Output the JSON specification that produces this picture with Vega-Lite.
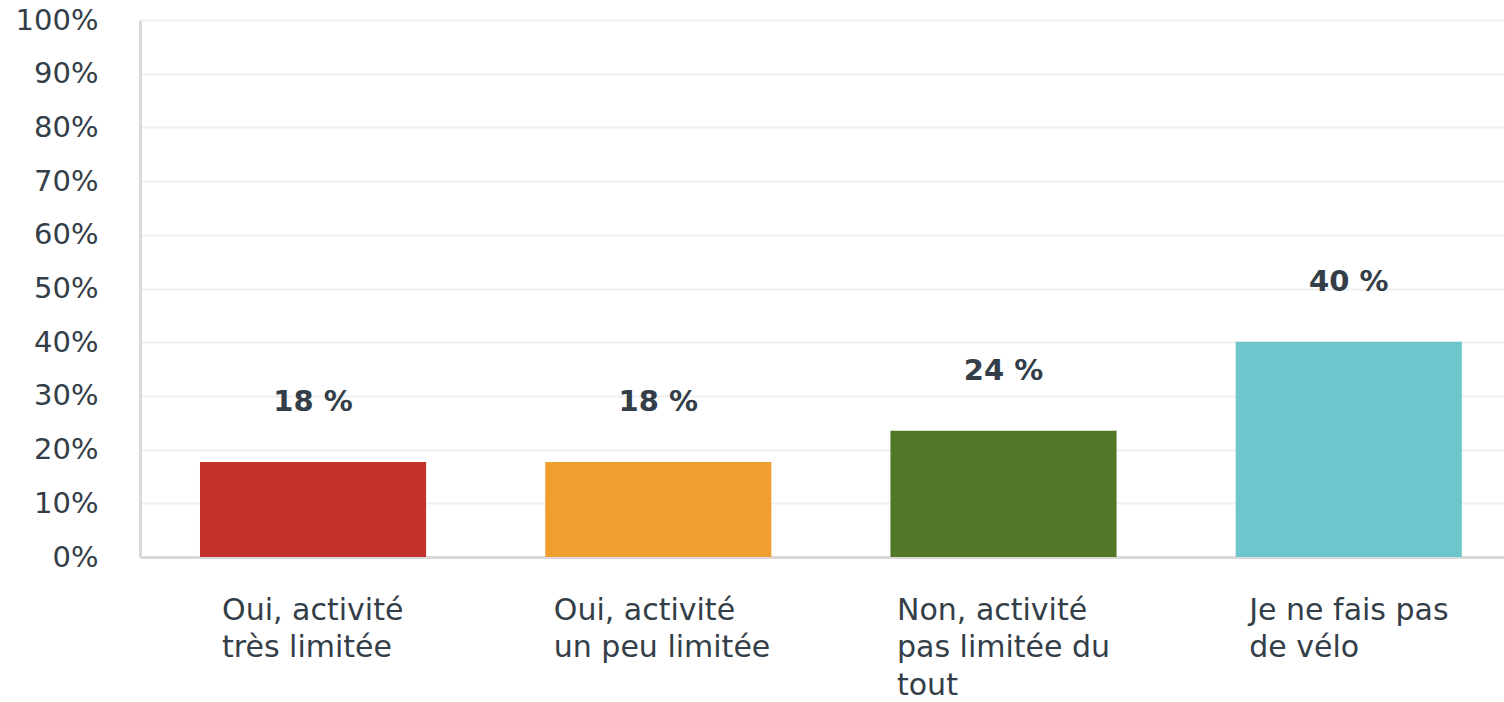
{
  "$schema": "https://vega.github.io/schema/vega-lite/v6.json",
  "width": 1364,
  "height": 537,
  "autosize": {"type": "none"},
  "padding": {"left": 140, "top": 20, "right": 0, "bottom": 145},
  "background": "white",
  "config": {"view": {"stroke": null}, "font": "DejaVu Sans"},
  "data": {
    "values": [
      {"reponse": "Oui, activité très limitée", "pct": 17.7, "label": "18 %"},
      {"reponse": "Oui, activité un peu limitée", "pct": 17.7, "label": "18 %"},
      {"reponse": "Non, activité pas limitée du tout", "pct": 23.5, "label": "24 %"},
      {"reponse": "Je ne fais pas de vélo", "pct": 40.1, "label": "40 %"}
    ]
  },
  "encoding": {
    "x": {
      "field": "reponse",
      "type": "nominal",
      "sort": null,
      "scale": {"paddingInner": 0.345, "paddingOuter": 0.148, "align": 0.587},
      "axis": {
        "title": null,
        "labelAngle": 0,
        "ticks": false,
        "domainColor": "#d9d9d9",
        "domainWidth": 3,
        "labelFont": "DejaVu Sans",
        "labelFontSize": 30,
        "labelColor": "#333e48",
        "labelAlign": "left",
        "labelBaseline": "top",
        "labelPadding": 38,
        "labelLineHeight": 37.5,
        "labelLimit": 0,
        "labelExpr": "datum.value === 'Oui, activité très limitée' ? ['Oui, activité', 'très limitée'] : datum.value === 'Oui, activité un peu limitée' ? ['Oui, activité', 'un peu limitée'] : datum.value === 'Non, activité pas limitée du tout' ? ['Non, activité', 'pas limitée du', 'tout'] : ['Je ne fais pas', 'de vélo']",
        "labelOffset": {
          "condition": [
            {"test": "datum.value === 'Oui, activité très limitée'", "value": -91},
            {"test": "datum.value === 'Oui, activité un peu limitée'", "value": -104.5},
            {"test": "datum.value === 'Non, activité pas limitée du tout'", "value": -106.5}
          ],
          "value": -99.5
        }
      }
    },
    "y": {
      "field": "pct",
      "type": "quantitative",
      "scale": {"domain": [0, 100]},
      "axis": {
        "title": null,
        "values": [0, 10, 20, 30, 40, 50, 60, 70, 80, 90, 100],
        "labelExpr": "datum.value + '%'",
        "ticks": false,
        "labelPadding": 42,
        "labelFont": "DejaVu Sans",
        "labelFontSize": 29,
        "labelColor": "#333e48",
        "gridColor": "#efefef",
        "gridWidth": 2,
        "domainColor": "#d9d9d9",
        "domainWidth": 3
      }
    }
  },
  "layer": [
    {
      "mark": {"type": "bar"},
      "encoding": {
        "color": {
          "field": "reponse",
          "type": "nominal",
          "scale": {
            "domain": ["Oui, activité très limitée", "Oui, activité un peu limitée", "Non, activité pas limitée du tout", "Je ne fais pas de vélo"],
            "range": ["#c3322b", "#f09e2f", "#507828", "#6cc6cb"]
          },
          "legend": null
        }
      }
    },
    {
      "mark": {"type": "text", "baseline": "middle", "align": "center", "dy": -60, "fontSize": 29, "fontWeight": "bold", "font": "DejaVu Sans", "color": "#333e48"},
      "encoding": {"text": {"field": "label"}}
    }
  ]
}
